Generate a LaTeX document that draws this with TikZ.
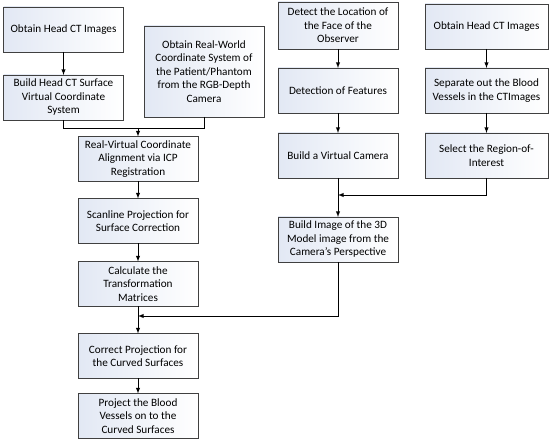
\documentclass[tikz,border=0pt]{standalone}
\usepackage{fontspec}
\setmainfont{Carlito}
\usepackage{xcolor}
\usepackage{tikz}
\usetikzlibrary{arrows, positioning}

\definecolor{boxfill}{RGB}{226,232,244}
\definecolor{boxline}{RGB}{64,64,64}

\begin{document}
\begin{tikzpicture}[x=1pt, y=-1pt]
		\tikzset{node distance=20pt and 20pt,
			box/.style={rectangle, draw=boxline, line width=0.8pt, left color=boxfill,
			right color=white, align=center, minimum width=120pt, minimum height=45pt,
			inner sep=2pt, outer sep=0pt, font=\fontsize{11.2}{13.5}\selectfont},
			wbox/.style={box, minimum width=123pt},
			conn/.style={line width=0.9pt},
		}
		\useasboundingbox (0,0) rectangle (550,443);

		% left column
		\node[box] (hct) at (63.5,29.5) {Obtain Head CT Images};
		\node[box, below=23pt of hct] (surf) {Build Head CT Surface\\Virtual Coordinate\\System};
		\node[box, minimum height=91pt] (rgbd) at (204,71.5) {Obtain Real-World\\Coordinate System of\\the Patient/Phantom\\from the RGB-Depth\\Camera};
		\node[box] (align) at (138,159) {Real-Virtual Coordinate\\Alignment via ICP\\Registration};
		\node[box, below=17pt of align] (scan) {Scanline Projection for\\Surface Correction};
		\node[box, below=18pt of scan] (matr) {Calculate the\\Transformation\\Matrices};
		\node[box, below=27pt of matr] (corr) {Correct Projection for\\the Curved Surfaces};
		\node[box, below=15pt of corr] (proj) {Project the Blood\\Vessels on to the\\Curved Surfaces};

		% middle column
		\node[box, minimum height=47pt] (face) at (338,25.5) {Detect the Location of\\the Face of the\\Observer};
		\node[box, below=19pt of face] (feat) {Detection of Features};
		\node[box, below=20pt of feat] (cam) {Build a Virtual Camera};
		\node[box, below=39pt of cam] (img) {Build Image of the 3D\\Model image from the\\Camera's Perspective};

		% right column
		\node[wbox] (hct2) at (486.5,26.5) {Obtain Head CT Images};
		\node[wbox, below=19pt of hct2] (sep) {Separate out the Blood\\Vessels in the CTImages};
		\node[wbox, below=20pt of sep] (roi) {Select the Region-of-\\Interest};

		\coordinate (j1) at (138,128);
		\coordinate (j2) at (338,195);
		\coordinate (j3) at (138,316);

		\draw[conn, -latex] (hct) -- (surf);
		\draw[conn] (surf.south) |- (j1);
		\draw[conn] (rgbd.south) |- (j1);
		\draw[conn, -latex] (j1) -- (align);
		\draw[conn, -latex] (align) -- (scan);
		\draw[conn, -latex] (scan) -- (matr);
		\draw[conn, -latex] (matr) -- (corr);
		\draw[conn, -latex] (corr) -- (proj);

		\draw[conn, -latex] (face) -- (feat);
		\draw[conn, -latex] (feat) -- (cam);
		\draw[conn, -latex] (cam) -- (img);
		\draw[conn, -latex] (hct2) -- (sep);
		\draw[conn, -latex] (sep) -- (roi);
		\draw[conn, -latex] (roi.south) |- (j2);
		\draw[conn, -latex] (img.south) |- (j3);

	\end{tikzpicture}
\end{document}
